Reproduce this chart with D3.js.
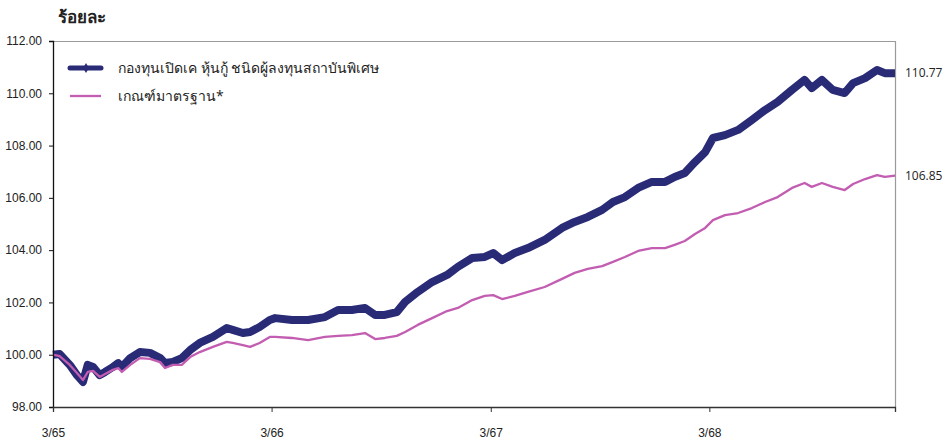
<!DOCTYPE html>
<html><head><meta charset="utf-8">
<script src="https://cdn.jsdelivr.net/npm/d3@7"></script>
<style>
html,body{margin:0;padding:0;background:#fff;}
svg{display:block;font-family:"Open Sans","Noto Sans","DejaVu Sans",sans-serif;}
</style></head>
<body>
<svg id="chart" width="951" height="441"></svg>
<script>
const dates = ["2022-03-31","2022-04-11","2022-04-28","2022-05-10","2022-05-20","2022-05-28","2022-06-06","2022-06-17","2022-06-26","2022-07-09","2022-07-18","2022-07-24","2022-08-07","2022-08-23","2022-09-09","2022-09-26","2022-10-04","2022-10-17","2022-11-01","2022-11-15","2022-12-01","2022-12-23","2023-01-15","2023-01-25","2023-02-11","2023-02-23","2023-03-11","2023-03-28","2023-04-06","2023-05-04","2023-05-31","2023-06-28","2023-07-20","2023-08-12","2023-09-03","2023-09-20","2023-10-06","2023-10-26","2023-11-09","2023-11-30","2023-12-24","2024-01-18","2024-02-05","2024-02-29","2024-03-21","2024-04-04","2024-04-19","2024-05-10","2024-06-01","2024-06-29","2024-07-28","2024-08-18","2024-09-09","2024-10-03","2024-10-21","2024-11-10","2024-12-02","2024-12-25","2025-01-16","2025-02-01","2025-02-18","2025-03-07","2025-03-24","2025-04-06","2025-04-26","2025-05-18","2025-06-10","2025-07-02","2025-07-23","2025-08-16","2025-09-06","2025-09-18","2025-10-05","2025-10-23","2025-11-12","2025-11-26","2025-12-16","2026-01-05","2026-01-18","2026-02-04"];

const fundValues = [100.00,100.03,99.61,99.22,98.96,99.61,99.53,99.22,99.34,99.53,99.68,99.53,99.87,100.10,100.07,99.87,99.68,99.72,99.87,100.18,100.45,100.68,101.02,100.95,100.83,100.87,101.06,101.33,101.40,101.33,101.33,101.44,101.71,101.71,101.79,101.52,101.52,101.63,102.02,102.40,102.78,103.05,103.36,103.70,103.74,103.89,103.62,103.89,104.08,104.39,104.85,105.08,105.27,105.54,105.84,106.03,106.38,106.61,106.61,106.80,106.95,107.37,107.75,108.29,108.40,108.60,108.98,109.36,109.67,110.13,110.51,110.20,110.51,110.13,110.01,110.39,110.58,110.89,110.77,110.77];

const benchValues = [100.00,99.95,99.61,99.30,99.03,99.34,99.38,99.15,99.26,99.42,99.49,99.34,99.61,99.87,99.84,99.72,99.49,99.61,99.61,99.91,100.10,100.30,100.49,100.45,100.37,100.30,100.45,100.68,100.68,100.64,100.56,100.68,100.72,100.75,100.83,100.60,100.64,100.72,100.87,101.14,101.40,101.67,101.79,102.09,102.25,102.28,102.13,102.25,102.40,102.59,102.90,103.13,103.28,103.39,103.55,103.74,103.97,104.08,104.08,104.20,104.35,104.62,104.85,105.15,105.34,105.42,105.61,105.84,106.03,106.38,106.57,106.42,106.57,106.42,106.30,106.53,106.72,106.87,106.80,106.85];

const seriesNames = ["กองทุนเปิดเค หุ้นกู้ ชนิดผู้ลงทุนสถาบันพิเศษ","เกณฑ์มาตรฐาน*"];
const yTicks = [98,100,102,104,106,108,110,112];
const xTickDates = ["2022-03-31","2023-03-31","2024-03-31","2025-03-31"];
const xTickLabels = ["3/65","3/66","3/67","3/68"];
const endLabels = ["110.77","106.85"];
const yTitle = "ร้อยละ";

(function(){
const parse = d3.timeParse("%Y-%m-%d");
const fundData = dates.map((d,i)=>({date:parse(d), v:fundValues[i]}));
const benchData = dates.map((d,i)=>({date:parse(d), v:benchValues[i]}));

const svg = d3.select("#chart");
const mL = 53, mR = 895, mT = 41, mB = 407;
const x = d3.scaleTime().domain([parse(dates[0]), parse(dates[dates.length-1])]).range([mL,mR]);
const y = d3.scaleLinear().domain([98,112]).range([mB,mT]);

const navy = "#292b76", pink = "#c25db1";

svg.append("line").attr("x1",mL).attr("x2",mR).attr("y1",mT+0.5).attr("y2",mT+0.5).attr("stroke","#9a9a9a").attr("stroke-width",1.2);
svg.append("line").attr("x1",mR+0.5).attr("x2",mR+0.5).attr("y1",mT).attr("y2",mB).attr("stroke","#9a9a9a").attr("stroke-width",1.2);

const line = d3.line().x(d=>x(d.date)).y(d=>y(d.v));

svg.append("path").datum(fundData).attr("d",line).attr("fill","none")
  .attr("stroke",navy).attr("stroke-width",8).attr("stroke-linejoin","round").attr("stroke-linecap","butt");
svg.append("path").datum(benchData).attr("d",line).attr("fill","none")
  .attr("stroke",pink).attr("stroke-width",2.3).attr("stroke-linejoin","round");

const yAxis = svg.append("g").attr("transform",`translate(${mL},0)`)
  .call(d3.axisLeft(y).tickValues(yTicks).tickFormat(d3.format(".2f")).tickSize(4).tickPadding(7));
yAxis.select(".domain").attr("stroke","#111").attr("stroke-width",1.3);
yAxis.selectAll(".tick line").attr("stroke","#111");
yAxis.selectAll("text").attr("font-size",12).attr("fill","#222");

const xAxis = svg.append("g").attr("transform",`translate(0,${mB})`)
  .call(d3.axisBottom(x).tickValues(xTickDates.map(parse)).tickFormat((d,i)=>xTickLabels[i]).tickSizeOuter(0).tickSize(5).tickPadding(16));
xAxis.select(".domain").attr("stroke","#333").attr("stroke-width",1.3);
xAxis.selectAll(".tick line").attr("stroke","#333");
xAxis.selectAll("text").attr("font-size",12).attr("fill","#222");

const lastF = fundData[fundData.length-1], lastB = benchData[benchData.length-1];
svg.append("text").attr("x",mR+10).attr("y",y(lastF.v)).attr("dy","0.35em").attr("font-size",12).attr("fill","#222").text(endLabels[0]);
svg.append("text").attr("x",mR+10).attr("y",y(lastB.v)).attr("dy","0.35em").attr("font-size",12).attr("fill","#222").text(endLabels[1]);

svg.append("text").attr("x",58).attr("y",23).attr("font-size",17).attr("font-weight","bold").attr("fill","#222").text(yTitle);

const lg = svg.append("g");
lg.append("line").attr("x1",70).attr("x2",101).attr("y1",68).attr("y2",68).attr("stroke",navy).attr("stroke-width",5).attr("stroke-linecap","round");
lg.append("path").attr("d",d3.symbol(d3.symbolDiamond,30)()).attr("transform","translate(86,68)").attr("fill",navy);
lg.append("text").attr("x",118).attr("y",68).attr("dy","0.35em").attr("font-size",14).attr("fill","#222").text(seriesNames[0]);
lg.append("line").attr("x1",70).attr("x2",101).attr("y1",96).attr("y2",96).attr("stroke",pink).attr("stroke-width",2.3);
lg.append("text").attr("x",118).attr("y",96).attr("dy","0.35em").attr("font-size",14).attr("fill","#222").text(seriesNames[1]);
})();
</script>
</body></html>
